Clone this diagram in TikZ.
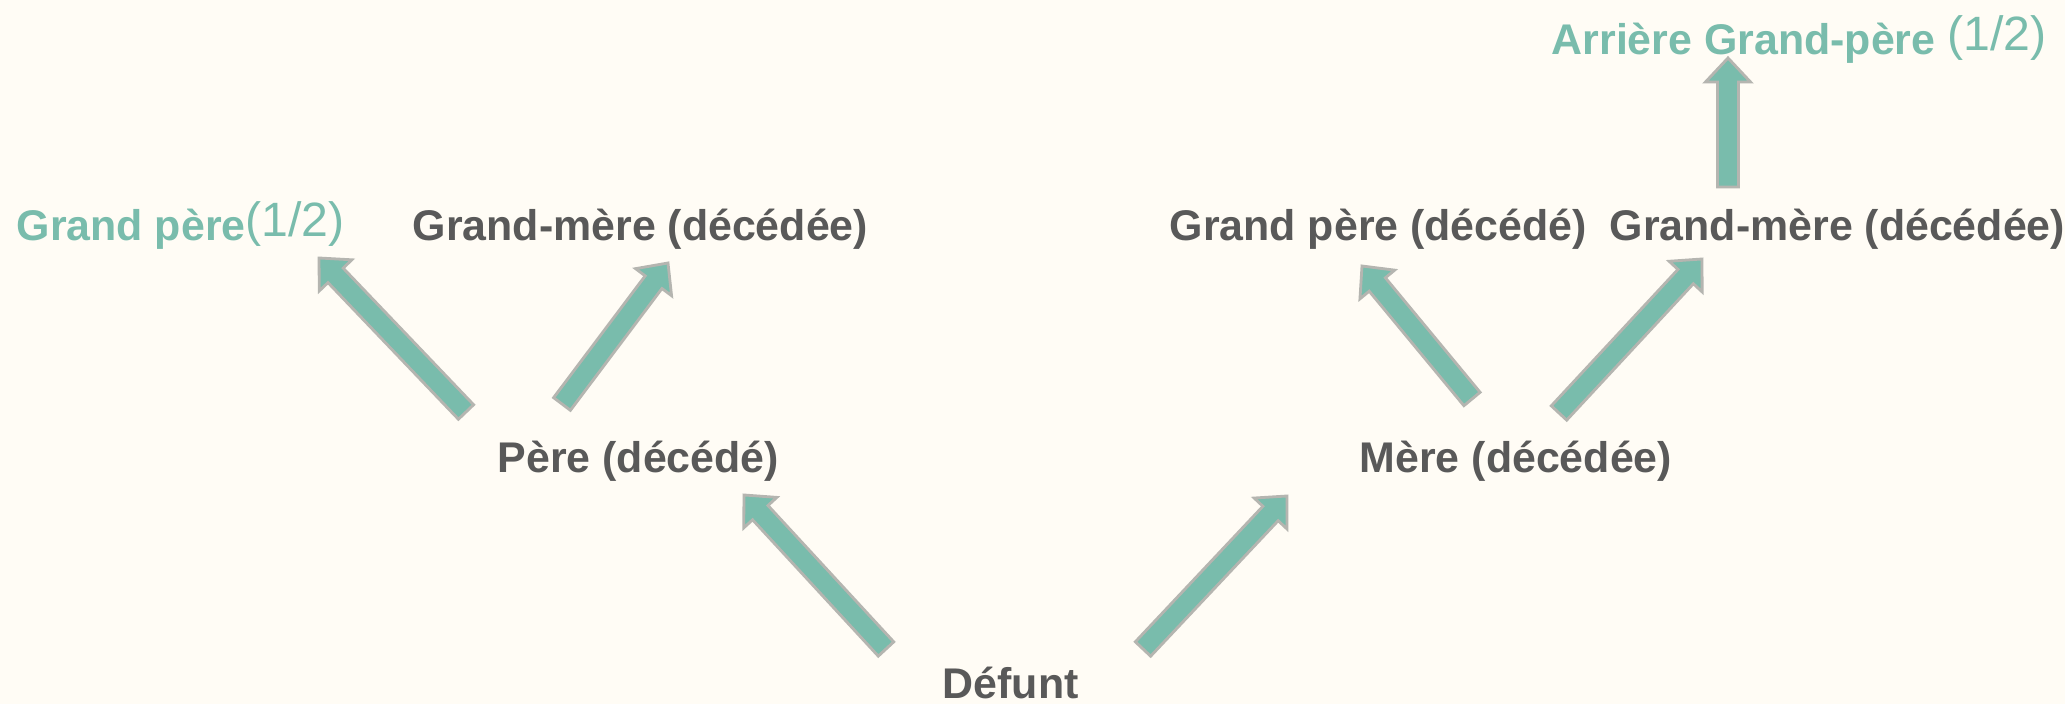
\documentclass[tikz,border=0pt]{standalone}
\usepackage{fontspec}
\setmainfont{Liberation Sans}
\usetikzlibrary{calc}

\definecolor{pagebg}{HTML}{FFFCF5}
\definecolor{arrowfill}{HTML}{79BCAC}
\definecolor{arrowedge}{HTML}{B5B5B0}
\definecolor{labelgray}{HTML}{595959}
\definecolor{heirgreen}{HTML}{79BCAC}

% block arrow geometry
\def\shaftw{0.105cm}
\def\headw{0.225cm}
\def\headlen{0.24cm}

% filled block arrow from tail #1 to tip #2
\newcommand{\blockarrow}[2]{%
  \coordinate (hb) at ($(#2)!\headlen!(#1)$);
  \filldraw[arrowbody]
    ($(#1)!\shaftw!90:(#2)$) -- ($(hb)!\shaftw!90:(#2)$) -- ($(hb)!\headw!90:(#2)$) -- (#2)
    -- ($(hb)!\headw!-90:(#2)$) -- ($(hb)!\shaftw!-90:(#2)$) -- ($(#1)!\shaftw!-90:(#2)$) -- cycle;
}

\newcommand{\half}{{\fontsize{13.7pt}{16pt}\selectfont\mdseries\raisebox{1.2pt}{(1/2)}}}

\tikzset{
  arrowbody/.style={fill=arrowfill, draw=arrowedge, line width=0.8pt, line join=miter},
  person/.style={anchor=base west, inner sep=0pt, text=labelgray,
                 font=\fontsize{12.2pt}{14pt}\selectfont\bfseries},
  heir/.style={person, text=heirgreen},
}

\begin{document}
\begin{tikzpicture}[x=0.01cm, y=-0.01cm]
  \fill[pagebg] (0,0) rectangle (2065,704);
  \useasboundingbox (0,0) rectangle (2065,704);

  % family members
  \node[heir]   (gp1)    at (16,241)   {Grand père\half};
  \node[person] (gm1)    at (412,241)  {Grand-mère (décédée)};
  \node[person] (pere)   at (497,473)  {Père (décédé)};
  \node[person] (mere)   at (1359,473) {Mère (décédée)};
  \node[person] (gp2)    at (1169,241) {Grand père (décédé)};
  \node[person] (gm2)    at (1609,241) {Grand-mère (décédée)};
  \node[heir]   (agp)    at (1551,55)  {Arrière Grand-père \half};
  \node[person] (defunt) at (942,699)  {Défunt};

  % arrow ends
  \coordinate (t1) at (466,412);  \coordinate (h1) at (319,258);
  \coordinate (t2) at (562,404);  \coordinate (h2) at (668,263);
  \coordinate (t3) at (886,649);  \coordinate (h3) at (744,495);
  \coordinate (t4) at (1143,649); \coordinate (h4) at (1287,496);
  \coordinate (t5) at (1472,399); \coordinate (h5) at (1362,266);
  \coordinate (t6) at (1559,413); \coordinate (h6) at (1702,259);
  \coordinate (t7) at (1728,187); \coordinate (h7) at (1728,58);

  % lineage arrows
  \blockarrow{t1}{h1}
  \blockarrow{t2}{h2}
  \blockarrow{t3}{h3}
  \blockarrow{t4}{h4}
  \blockarrow{t5}{h5}
  \blockarrow{t6}{h6}
  \blockarrow{t7}{h7}
\end{tikzpicture}
\end{document}
